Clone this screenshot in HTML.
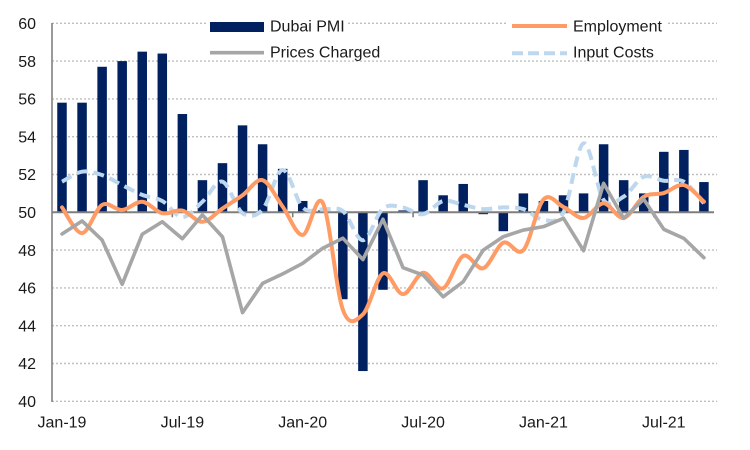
<!DOCTYPE html>
<html>
<head>
<meta charset="utf-8">
<style>
  html,body{margin:0;padding:0;background:#fff;}
  svg{display:block;}
  text{font-family:"Liberation Sans",Arial,sans-serif;font-size:16px;fill:#1a1a1a;}
</style>
</head>
<body>
<svg id="c" width="750" height="450" viewBox="0 0 750 450" xmlns="http://www.w3.org/2000/svg">
  <rect x="0" y="0" width="750" height="450" fill="#fff"/>
  <g id="grid"></g>
  <g id="bars"></g>
  <g id="axes"></g>
  <g id="lines"></g>
  <!-- legend backgrounds -->
  <rect x="207" y="14" width="140" height="45" fill="#fff"/>
  <rect x="508" y="14" width="159" height="45" fill="#fff"/>
  <!-- legend -->
  <rect x="210" y="22" width="54" height="10" fill="#002060"/>
  <text x="270" y="31.7">Dubai PMI</text>
  <line x1="210" y1="52.7" x2="264" y2="52.7" stroke="#A6A6A6" stroke-width="3.6"/>
  <text x="270" y="57.7">Prices Charged</text>
  <line x1="512" y1="26" x2="567" y2="26" stroke="#FF9C66" stroke-width="4"/>
  <text x="573" y="31.7">Employment</text>
  <line x1="512" y1="53.3" x2="567" y2="53.3" stroke="#BDD7EE" stroke-width="4" stroke-dasharray="11 5"/>
  <text x="573" y="57.7">Input Costs</text>
  <!-- y labels -->
  <g text-anchor="end">
    <text x="36" y="29">60</text>
    <text x="36" y="66.8">58</text>
    <text x="36" y="104.6">56</text>
    <text x="36" y="142.4">54</text>
    <text x="36" y="180.2">52</text>
    <text x="36" y="218">50</text>
    <text x="36" y="255.8">48</text>
    <text x="36" y="293.6">46</text>
    <text x="36" y="331.4">44</text>
    <text x="36" y="369.2">42</text>
    <text x="36" y="407">40</text>
  </g>
  <!-- x labels -->
  <g text-anchor="middle">
    <text x="62" y="427.7">Jan-19</text>
    <text x="182.4" y="427.7">Jul-19</text>
    <text x="302.7" y="427.7">Jan-20</text>
    <text x="423.1" y="427.7">Jul-20</text>
    <text x="543.4" y="427.7">Jan-21</text>
    <text x="663.8" y="427.7">Jul-21</text>
  </g>
</svg>
<script>
(function(){
  var NS="http://www.w3.org/2000/svg";
  function Y(v){return 212.3-(v-50)*18.9;}
  function X(i){return 62+20.06*i;}
  function el(tag,attrs,parent){var e=document.createElementNS(NS,tag);for(var k in attrs)e.setAttribute(k,attrs[k]);parent.appendChild(e);return e;}
  var grid=document.getElementById('grid'),bars=document.getElementById('bars'),axes=document.getElementById('axes'),lines=document.getElementById('lines');
  for(var v=40;v<=60;v+=2){ if(v===50)continue;
    el('line',{x1:52,y1:Y(v),x2:717,y2:Y(v),stroke:'#BFBFBF','stroke-width':1.4,'stroke-dasharray':'2 2'},grid);}
  var pmi=[55.8,55.8,57.7,58.0,58.5,58.4,55.2,51.7,52.6,54.6,53.6,52.3,50.6,50.1,45.4,41.6,45.9,50.1,51.7,50.9,51.5,49.9,49.0,51.0,50.6,50.9,51.0,53.6,51.7,51.0,53.2,53.3,51.6];
  pmi.forEach(function(v,i){
    var y0=Y(50),y=Y(v);
    el('rect',{x:X(i)-4.75,y:Math.min(y,y0),width:9.5,height:Math.abs(y-y0),fill:'#002060'},bars);
  });
  el('line',{x1:52,y1:23,x2:52,y2:402,stroke:'#808080','stroke-width':1.6},axes);
  el('line',{x1:52,y1:Y(50),x2:714,y2:Y(50),stroke:'#7F7F7F','stroke-width':2},axes);
  for(var k=1;k<=5;k++){var tx=52+20.06*6*k;
    el('line',{x1:tx,y1:Y(50),x2:tx,y2:Y(50)+5,stroke:'#7F7F7F','stroke-width':1.6},axes);}
  function smooth(data){
    var p=data.map(function(v,i){return [X(i),Y(v)];});
    var d='M'+p[0][0].toFixed(2)+','+p[0][1].toFixed(2);
    for(var i=0;i<p.length-1;i++){
      var p0=p[i-1]||p[i],p1=p[i],p2=p[i+1],p3=p[i+2]||p[i+1];
      var c1=[p1[0]+(p2[0]-p0[0])/6,p1[1]+(p2[1]-p0[1])/6];
      var c2=[p2[0]-(p3[0]-p1[0])/6,p2[1]-(p3[1]-p1[1])/6];
      d+=' C'+c1[0].toFixed(2)+','+c1[1].toFixed(2)+' '+c2[0].toFixed(2)+','+c2[1].toFixed(2)+' '+p2[0].toFixed(2)+','+p2[1].toFixed(2);
    }
    return d;
  }
  function straight(data){
    return data.map(function(v,i){return (i?'L':'M')+X(i).toFixed(2)+','+Y(v).toFixed(2);}).join(' ');
  }
  var input=[51.62,52.15,51.97,51.44,50.92,50.6,49.75,50.56,51.62,49.95,50.15,52.24,50.25,50.15,50.07,48.52,50.2,50.25,49.9,50.6,50.39,50.17,50.26,50.17,49.6,50.0,53.65,50.65,50.83,51.88,51.67,51.62,50.48];
  var emp=[50.26,48.9,50.39,50.12,50.56,49.95,50.09,49.5,50.2,50.9,51.7,50.3,48.8,50.5,44.85,44.6,46.77,45.67,46.8,45.98,47.69,47.04,48.39,48.0,50.68,50.28,49.7,50.48,49.7,50.82,51.02,51.44,50.56];
  var prices=[48.85,49.54,48.53,46.19,48.84,49.5,48.6,49.86,48.7,44.69,46.24,46.74,47.3,48.1,48.63,47.5,49.63,47.07,46.68,45.53,46.33,48.0,48.71,49.06,49.24,49.68,47.97,51.53,49.68,50.69,49.1,48.62,47.6];
  el('path',{d:smooth(input),fill:'none',stroke:'#BDD7EE','stroke-width':4,'stroke-dasharray':'11 6','stroke-linejoin':'round'},lines);
  el('path',{d:smooth(emp),fill:'none',stroke:'#FF9C66','stroke-width':4,'stroke-linejoin':'round','stroke-linecap':'round'},lines);
  el('path',{d:straight(prices),fill:'none',stroke:'#A6A6A6','stroke-width':3.6,'stroke-linejoin':'round','stroke-linecap':'round'},lines);
})();
</script>
</body>
</html>
